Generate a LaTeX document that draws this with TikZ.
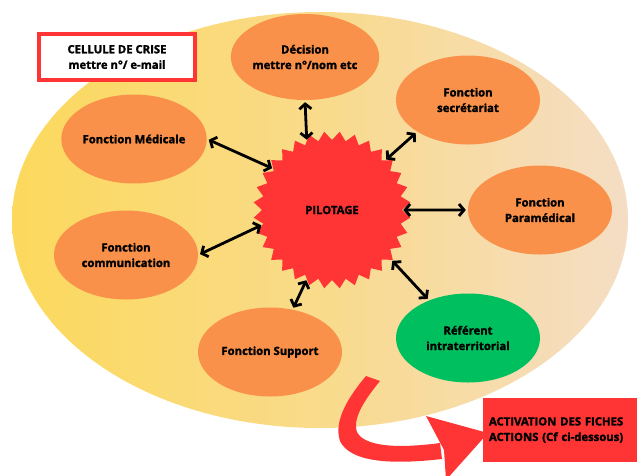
\documentclass[tikz,border=0pt]{standalone}
\usepackage{fontspec}
\setmainfont{Open Sans}[BoldFeatures={FakeBold=1.8}]
\usepackage{xcolor}
\usepackage{tikz}
\usetikzlibrary{shapes.geometric,arrows.meta}
\definecolor{jaune}{HTML}{FCD95C}
\definecolor{peche}{HTML}{F5DDC5}
\definecolor{orangef}{HTML}{FA914B}
\definecolor{vert}{HTML}{00BF5F}
\definecolor{rouge}{HTML}{FF3535}

\begin{document}
\begin{tikzpicture}[x=1pt,y=-1pt,
texte/.style={font=\bfseries\fontsize{11.3}{15.5}\selectfont},
fonction/.style={ellipse,fill=orangef,minimum width=144pt,minimum height=89pt,inner sep=0pt,align=center,texte},
lien/.style={{Straight Barb[length=5pt,width=12pt]}-{Straight Barb[length=5pt,width=12pt]},line width=2.8pt,shorten <=2pt,shorten >=1pt}
]
\useasboundingbox (0,0) rectangle (640,475);
\shade[left color=jaune,right color=peche,middle color=jaune!55!peche] (320,220) ellipse [x radius=308pt,y radius=208pt];
\node[draw=rouge,line width=4pt,fill=white,minimum width=156pt,minimum height=46pt,align=center,texte] (crise) at (117,57) {CELLULE DE CRISE\\mettre n°/ e-mail};
\node[star,star points=32,star point ratio=0.89,minimum size=140pt,inner sep=0pt,fill=rouge,texte] (pil) at (332,210) {PILOTAGE};
\node[fonction,minimum height=86pt] (dec) at (305,57) {Décision\\mettre n°/nom etc};
\node[fonction] (sec) at (468,100) {Fonction\\secrétariat};
\node[fonction] (med) at (134,139) {Fonction Médicale};
\node[fonction] (par) at (540,210) {Fonction\\Paramédical};
\node[fonction] (com) at (126,255) {Fonction\\communication};
\node[fonction] (sup) at (270,352) {Fonction Support};
\node[fonction,fill=vert] (ref) at (468,338) {Référent\\intraterritorial};
\draw[lien] (dec.south) -- (pil.110);
\draw[lien] (med.east) -- (pil.145);
\draw[lien] (sec.212) -- (pil.43);
\draw[lien] (par.west) -- (pil.0);
\draw[lien] (com.east) -- (pil.192);
\draw[lien] (sup.62) -- (pil.250);
\draw[lien] (ref.136) -- (pil.320);
\fill[rouge] (366,376) .. controls (350,395) and (333,420) .. (340,441) .. controls (350,462) and (390,465) .. (442,459) -- (440,443) .. controls (395,449) and (364,446) .. (357,432) .. controls (352,418) and (366,398) .. (380,381) -- cycle;
\fill[rouge] (426,416) -- (488,433) -- (446,480) -- (444,450) -- cycle;
\node[fill=rouge,minimum width=154pt,minimum height=64pt,text width=142pt,align=left,texte] (act) at (560,430) {ACTIVATION DES FICHES\\ACTIONS (Cf ci-dessous)};
\end{tikzpicture}
\end{document}
